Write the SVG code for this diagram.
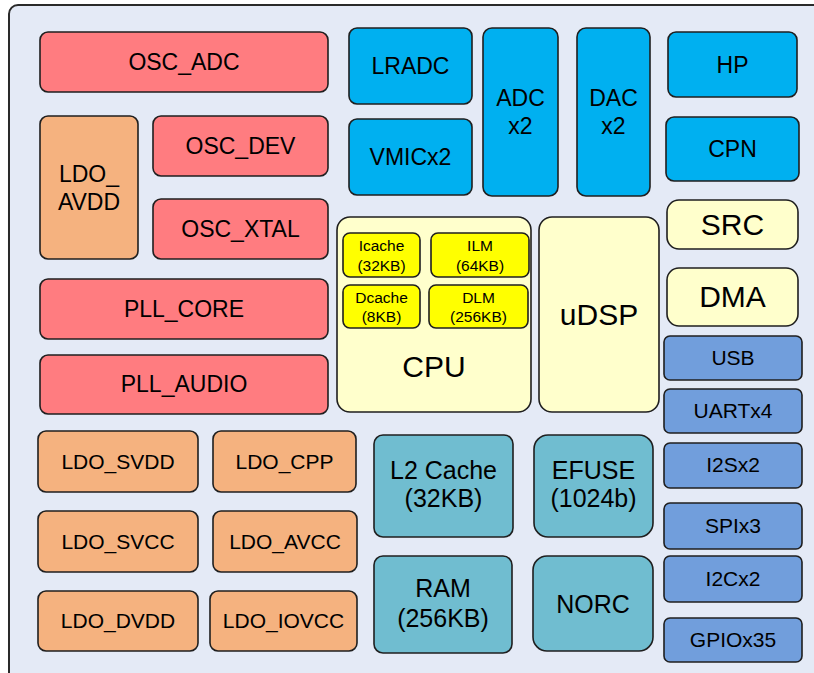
<svg xmlns="http://www.w3.org/2000/svg" width="814" height="673" viewBox="0 0 814 673">
<style>
.b{stroke:#1f1f1f;stroke-width:1.6}
.red{fill:#ff7c80}
.org{fill:#f5b27f}
.blu{fill:#00b0f0}
.lyl{fill:#ffffcc}
.yel{fill:#ffff00}
.stl{fill:#719edc}
.tea{fill:#70bdd0}
text{font-family:"Liberation Sans",Arial,sans-serif;fill:#000;text-anchor:middle}
.f23{font-size:23px}
.f21{font-size:21px}
.f20{font-size:21px}
.f25{font-size:25px}
.f30{font-size:30px}
.f15{font-size:15.5px}
</style>
<rect x="0" y="0" width="814" height="673" fill="#ffffff"/>
<rect id="chip" x="9" y="5" width="840" height="700" rx="9" fill="#e4eaf6" stroke="#2a2a2a" stroke-width="2"/>

<g id="osc_adc"><rect class="b red" x="40" y="32" width="288" height="60" rx="8"/><text class="f23" x="184" y="70">OSC_ADC</text></g>
<g id="ldo_avdd"><rect class="b org" x="40" y="116" width="98" height="143" rx="8"/><text class="f23" x="89" y="182">LDO_</text><text class="f23" x="89" y="210">AVDD</text></g>
<g id="osc_dev"><rect class="b red" x="153" y="116" width="175" height="60" rx="8"/><text class="f23" x="240.5" y="154">OSC_DEV</text></g>
<g id="osc_xtal"><rect class="b red" x="153" y="199" width="175" height="60" rx="8"/><text class="f23" x="240.5" y="237">OSC_XTAL</text></g>
<g id="pll_core"><rect class="b red" x="40" y="279" width="288" height="60" rx="8"/><text class="f23" x="184" y="317">PLL_CORE</text></g>
<g id="pll_audio"><rect class="b red" x="40" y="355" width="288" height="59" rx="8"/><text class="f23" x="184" y="392">PLL_AUDIO</text></g>

<g id="lradc"><rect class="b blu" x="349" y="28" width="123" height="76" rx="8"/><text class="f23" x="410.5" y="74">LRADC</text></g>
<g id="vmic"><rect class="b blu" x="349" y="119" width="123" height="76" rx="8"/><text class="f23" x="410.5" y="165">VMICx2</text></g>
<g id="adc"><rect class="b blu" x="483" y="28" width="75" height="168" rx="9"/><text class="f23" x="520.5" y="106">ADC</text><text class="f23" x="520.5" y="134">x2</text></g>
<g id="dac"><rect class="b blu" x="577" y="28" width="73" height="168" rx="9"/><text class="f23" x="613.5" y="106">DAC</text><text class="f23" x="613.5" y="134">x2</text></g>
<g id="hp"><rect class="b blu" x="668" y="32" width="129" height="65" rx="8"/><text class="f23" x="732.5" y="73">HP</text></g>
<g id="cpn"><rect class="b blu" x="666" y="117" width="133" height="64" rx="8"/><text class="f23" x="732.5" y="157">CPN</text></g>

<g id="cpu"><rect class="b lyl" x="337" y="217" width="194" height="195" rx="13"/><text class="f30" x="434" y="377">CPU</text></g>
<g id="icache"><rect class="b yel" x="343" y="233" width="77" height="44" rx="7"/><text class="f15" x="381.5" y="251">Icache</text><text class="f15" x="381.5" y="271">(32KB)</text></g>
<g id="ilm"><rect class="b yel" x="431" y="233" width="98" height="44" rx="7"/><text class="f15" x="480" y="251">ILM</text><text class="f15" x="480" y="271">(64KB)</text></g>
<g id="dcache"><rect class="b yel" x="343" y="285" width="77" height="43" rx="7"/><text class="f15" x="381.5" y="303">Dcache</text><text class="f15" x="381.5" y="322">(8KB)</text></g>
<g id="dlm"><rect class="b yel" x="429" y="285" width="99" height="43" rx="7"/><text class="f15" x="478.5" y="303">DLM</text><text class="f15" x="478.5" y="322">(256KB)</text></g>
<g id="udsp"><rect class="b lyl" x="539" y="217" width="120" height="195" rx="13"/><text class="f30" x="599" y="325">uDSP</text></g>

<g id="src"><rect class="b lyl" x="667" y="200" width="131" height="49" rx="12"/><text class="f30" x="732.5" y="235">SRC</text></g>
<g id="dma"><rect class="b lyl" x="667" y="268" width="131" height="58" rx="12"/><text class="f30" x="732.5" y="307">DMA</text></g>

<g id="usb"><rect class="b stl" x="664" y="336" width="138" height="44" rx="6"/><text class="f20" x="733" y="365">USB</text></g>
<g id="uart"><rect class="b stl" x="664" y="389" width="138" height="44" rx="6"/><text class="f20" x="733" y="418">UARTx4</text></g>
<g id="i2s"><rect class="b stl" x="664" y="443" width="138" height="45" rx="6"/><text class="f20" x="733" y="472">I2Sx2</text></g>
<g id="spi"><rect class="b stl" x="664" y="503" width="138" height="46" rx="6"/><text class="f20" x="733" y="533">SPIx3</text></g>
<g id="i2c"><rect class="b stl" x="664" y="556" width="138" height="46" rx="6"/><text class="f20" x="733" y="586">I2Cx2</text></g>
<g id="gpio"><rect class="b stl" x="664" y="618" width="138" height="44" rx="6"/><text class="f20" x="733" y="647">GPIOx35</text></g>

<g id="ldo_svdd"><rect class="b org" x="38" y="431" width="160" height="61" rx="8"/><text class="f21" x="118" y="469">LDO_SVDD</text></g>
<g id="ldo_cpp"><rect class="b org" x="213" y="431" width="143" height="61" rx="8"/><text class="f21" x="284.5" y="469">LDO_CPP</text></g>
<g id="ldo_svcc"><rect class="b org" x="38" y="511" width="160" height="61" rx="8"/><text class="f21" x="118" y="549">LDO_SVCC</text></g>
<g id="ldo_avcc"><rect class="b org" x="213" y="511" width="144" height="61" rx="8"/><text class="f21" x="285" y="549">LDO_AVCC</text></g>
<g id="ldo_dvdd"><rect class="b org" x="38" y="591" width="160" height="60" rx="8"/><text class="f21" x="118" y="628">LDO_DVDD</text></g>
<g id="ldo_iovcc"><rect class="b org" x="210" y="591" width="147" height="60" rx="8"/><text class="f21" x="283.5" y="628">LDO_IOVCC</text></g>

<g id="l2"><rect class="b tea" x="374" y="435" width="139" height="102" rx="9"/><text class="f25" x="443.5" y="479">L2 Cache</text><text class="f25" x="443.5" y="507">(32KB)</text></g>
<g id="efuse"><rect class="b tea" x="534" y="435" width="119" height="102" rx="14"/><text class="f25" x="593.5" y="479">EFUSE</text><text class="f25" x="593.5" y="507">(1024b)</text></g>
<g id="ram"><rect class="b tea" x="374" y="556" width="138" height="97" rx="9"/><text class="f25" x="443" y="597">RAM</text><text class="f25" x="443" y="627">(256KB)</text></g>
<g id="norc"><rect class="b tea" x="533" y="556" width="120" height="95" rx="14"/><text class="f25" x="593" y="613">NORC</text></g>

<g id="connectors"></g>
</svg>
